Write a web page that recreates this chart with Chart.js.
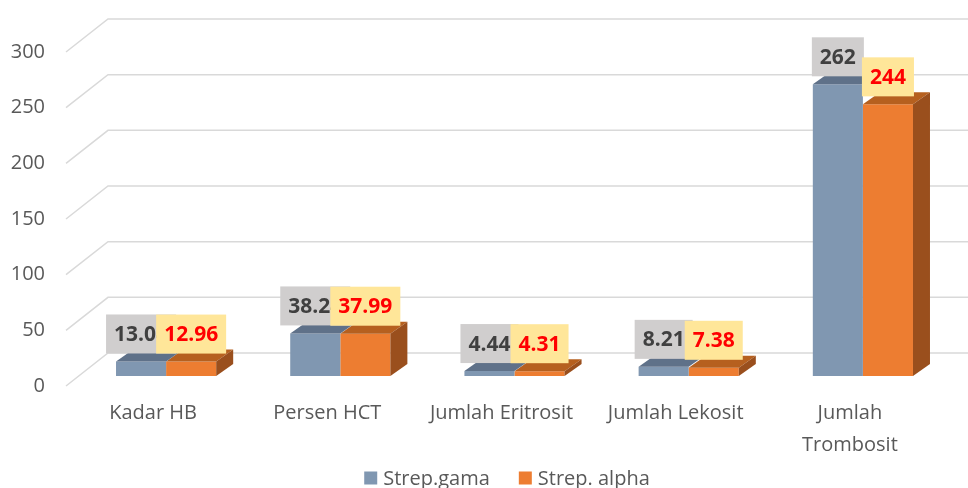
<!DOCTYPE html>
<html>
<head>
<meta charset="utf-8">
<script src="https://cdn.jsdelivr.net/npm/chart.js@4.4.1/dist/chart.umd.min.js"></script>
<style>
  html, body { margin: 0; padding: 0; background: #fff; }
  #wrap { width: 968px; height: 488px; }
</style>
</head>
<body>
<div id="wrap"><canvas id="chart"></canvas></div>
<script>
// --- data ---
const categories = ['Kadar HB', 'Persen HCT', 'Jumlah Eritrosit', 'Jumlah Lekosit', 'Jumlah Trombosit'];
const tickLabels = ['Kadar HB', 'Persen HCT', 'Jumlah Eritrosit', 'Jumlah Lekosit', ['Jumlah', 'Trombosit']];
const gamaValues = [13.04, 38.24, 4.44, 8.21, 262];
const alphaValues = [12.96, 37.99, 4.31, 7.38, 244];
const yTickValues = [0, 50, 100, 150, 200, 250, 300];
const seriesNames = ['Strep.gama', 'Strep. alpha'];

// --- fake 3D geometry ---
const WALL_DX = 42, WALL_DY = 33;   // depth of the floor / side wall
const BAR_DX = 17, BAR_DY = 12;     // depth of a bar
const OFF_X = 13, OFF_Y = 10;       // bars sit in the middle of the depth
const FONT = "'Open Sans', 'Noto Sans', sans-serif";

const threeD = {
    id: 'threeD',
    beforeDatasetsDraw(chart) {
        const { ctx, chartArea, scales: { y } } = chart;
        ctx.save();
        ctx.strokeStyle = '#d9d9d9';
        ctx.lineWidth = 1.5;
        y.ticks.forEach(t => {
            const py = y.getPixelForValue(t.value);
            ctx.beginPath();
            ctx.moveTo(chartArea.left, py);
            ctx.lineTo(chartArea.left + WALL_DX, py - WALL_DY);
            ctx.lineTo(chart.width, py - WALL_DY);
            ctx.stroke();
        });
        ctx.restore();
        // shift the bars back into the box
        ctx.save();
        ctx.translate(OFF_X, -OFF_Y);
    },
    afterDatasetDraw(chart, args) {
        const ctx = chart.ctx;
        const ds = chart.data.datasets[args.index];
        args.meta.data.forEach(bar => {
            const { x, y, base, width } = bar.getProps(['x', 'y', 'base', 'width'], true);
            const l = x - width / 2, r = x + width / 2;
            ctx.fillStyle = ds.topColor;
            ctx.beginPath();
            ctx.moveTo(l, y);
            ctx.lineTo(l + BAR_DX, y - BAR_DY);
            ctx.lineTo(r + BAR_DX, y - BAR_DY);
            ctx.lineTo(r, y);
            ctx.closePath();
            ctx.fill();
            if (ds.sideColor) {
                ctx.fillStyle = ds.sideColor;
                ctx.beginPath();
                ctx.moveTo(r, y);
                ctx.lineTo(r + BAR_DX, y - BAR_DY);
                ctx.lineTo(r + BAR_DX, base - BAR_DY);
                ctx.lineTo(r, base);
                ctx.closePath();
                ctx.fill();
            }
        });
    },
    afterDatasetsDraw(chart) {
        const ctx = chart.ctx;
        // data labels: gama first, alpha drawn over it
        ctx.font = 'bold 21px ' + FONT;
        ctx.textAlign = 'center';
        ctx.textBaseline = 'middle';
        chart.data.datasets.forEach((ds, i) => {
            const meta = chart.getDatasetMeta(i);
            meta.data.forEach((bar, j) => {
                const { x, y } = bar.getProps(['x', 'y'], true);
                const txt = String(ds.data[j]);
                const w = ctx.measureText(txt).width + 16;
                const h = 39;
                const bottom = y - 8;
                ctx.fillStyle = ds.labelBg;
                ctx.fillRect(x - w / 2, bottom - h, w, h);
                ctx.fillStyle = ds.labelColor;
                ctx.fillText(txt, x, bottom - h / 2 + 1);
            });
        });
        ctx.restore();

        // legend
        ctx.save();
        ctx.font = '20px ' + FONT;
        ctx.textBaseline = 'middle';
        ctx.textAlign = 'left';
        const items = chart.data.datasets.map(ds => ({
            text: ds.label, color: ds.backgroundColor,
            w: 13 + 6 + ctx.measureText(ds.label).width
        }));
        const gap = 29;
        const total = items.reduce((s, it) => s + it.w, 0) + gap * (items.length - 1);
        let lx = 507 - total / 2;
        const ly = 478;
        items.forEach(it => {
            ctx.fillStyle = it.color;
            ctx.fillRect(lx, ly - 6.5, 13, 13);
            ctx.fillStyle = '#595959';
            ctx.fillText(it.text, lx + 19, ly + 1);
            lx += it.w + gap;
        });
        ctx.restore();
    }
};

new Chart(document.getElementById('chart'), {
    type: 'bar',
    data: {
        labels: categories,
        datasets: [{
            label: seriesNames[0],
            data: gamaValues,
            backgroundColor: '#8097b1',
            topColor: '#5f7189',
            labelBg: '#d0cece',
            labelColor: '#404040',
            borderWidth: 0,
            categoryPercentage: 0.575,
            barPercentage: 1
        }, {
            label: seriesNames[1],
            data: alphaValues,
            backgroundColor: '#ed7d31',
            topColor: '#b6601f',
            sideColor: '#9a4f1d',
            labelBg: '#ffe699',
            labelColor: '#ff0000',
            borderWidth: 0,
            categoryPercentage: 0.575,
            barPercentage: 1
        }]
    },
    options: {
        responsive: true,
        maintainAspectRatio: false,
        animation: false,
        layout: { padding: { top: 52, right: 31, left: 0, bottom: 0 } },
        scales: {
            x: {
                grid: { display: false, drawTicks: false },
                border: { display: false },
                ticks: {
                    color: '#595959',
                    font: { family: FONT, size: 20, lineHeight: 1.6 },
                    padding: 11,
                    maxRotation: 0,
                    autoSkip: false,
                    callback: (v, i) => tickLabels[i]
                },
                afterFit: scale => { scale.height = 102; }
            },
            y: {
                min: 0,
                max: 300,
                grid: { display: false, drawTicks: false },
                border: { display: false },
                afterBuildTicks: scale => { scale.ticks = yTickValues.map(v => ({ value: v })); },
                ticks: {
                    color: '#595959',
                    font: { family: FONT, size: 20 },
                    padding: 21
                },
                afterFit: scale => { scale.width = 66; }
            }
        },
        plugins: {
            legend: { display: false },
            tooltip: { enabled: false }
        }
    },
    plugins: [threeD]
});
</script>
</body>
</html>
